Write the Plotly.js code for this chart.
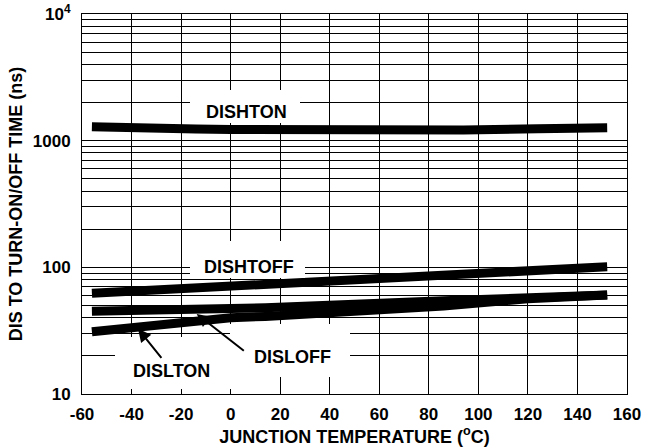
<!DOCTYPE html>
<html>
<head>
<meta charset="utf-8">
<script src="https://cdn.plot.ly/plotly-3.0.1.min.js"></script>
<style>html,body{margin:0;padding:0;background:#fff;}#chart{width:653px;height:448px;}</style>
</head>
<body>
<div id="chart"></div>
<script>
// ---- data ----
const dishtonT = [-56, -47, -30, -14, 0, 50, 94, 124, 144, 152];
const dishtonV = [1290, 1270, 1255, 1235, 1225, 1210, 1215, 1240, 1260, 1265];
const dishtoffT = [-56, 0, 14, 86, 120, 152];
const dishtoffV = [62.5, 71.5, 73.5, 87, 94.5, 101];
const disloffT = [-56, -16, 0, 14, 86, 120, 152];
const disloffV = [45, 46, 47, 48, 54.5, 58.5, 60.5];
const displtonT = [-56, -40, -20, 0, 14, 86, 120, 152];
const displtonV = [31, 33.3, 36.7, 40, 41, 49.5, 56.5, 60.5];

const xTickVals = [-60, -40, -20, 0, 20, 40, 60, 80, 100, 120, 140, 160];
const xTickText = ['-60', '-40', '-20', '0', '20', '40', '60', '80', '100', '120', '140', '160'];
const yDecades = [10, 100, 1000, 10000];
const yDecadeText = ['10', '100', '1000', '10<sup>4</sup>'];

// all log grid positions (gridlines at every 1..9 multiple)
const yTickVals = [];
const yTickText = [];
for (let d = 0; d < yDecades.length; d++) {
  const base = yDecades[d];
  yTickVals.push(base); yTickText.push(yDecadeText[d]);
  if (d < yDecades.length - 1) {
    for (let m = 2; m <= 9; m++) { yTickVals.push(base * m); yTickText.push(''); }
  }
}

const FONT = 'Liberation Sans, Arial, Helvetica, sans-serif';
const band = {color: '#000', width: 9};
function tr(x, y, name) {
  return {x: x, y: y, name: name, type: 'scatter', mode: 'lines', line: band, hoverinfo: 'skip'};
}
const data = [
  tr(dishtonT, dishtonV, 'DISHTON'),
  tr(dishtoffT, dishtoffV, 'DISHTOFF'),
  tr(disloffT, disloffV, 'DISLOFF'),
  tr(displtonT, displtonV, 'DISLTON')
];

// plot-area geometry (pixels) used only to place the white label backgrounds
const PL = 82, PR = 627, PT = 14, PB = 394;
function mask(px0, px1, py0, py1) {
  return {type: 'rect', xref: 'paper', yref: 'paper', layer: 'above',
    x0: (px0 - PL) / (PR - PL), x1: (px1 - PL) / (PR - PL),
    y0: (PB - py1) / (PB - PT), y1: (PB - py0) / (PB - PT),
    fillcolor: '#fff', line: {width: 0}};
}
const shapes = [
  mask(190, 300, 90, 123),
  mask(190, 305, 241, 278),
  mask(230, 350, 324, 377),
  mask(115, 235, 337, 389)
];

const L = Math.log10;
const labelFont = {family: FONT, size: 18, color: '#000', weight: 'bold'};
function label(x, y, t) {
  return {xref: 'x', yref: 'y', x: x, y: L(y), text: t, showarrow: false, font: labelFont};
}
// label with an arrow pointing at (x, y); text sits at pixel offset (ax, ay)
function arrowLabel(x, y, t, ax, ay, xanchor, startstandoff) {
  return {xref: 'x', yref: 'y', x: x, y: L(y), text: t, showarrow: true,
    ax: ax, ay: ay, xanchor: xanchor, yanchor: 'middle', font: labelFont,
    arrowhead: 2, arrowsize: 1.3, arrowwidth: 2, arrowcolor: '#000',
    startstandoff: startstandoff};
}

const annotations = [
  label(6.2, 1698, 'DISHTON'),
  label(7.4, 99.8, 'DISHTOFF'),
  arrowLabel(-13.7, 42.9, 'DISLOFF', 55, 43, 'left', 10),
  arrowLabel(-37.4, 32.7, 'DISLTON', 34, 42, 'center', 2)
];

const tickFont = {family: FONT, size: 17, color: '#000', weight: 'bold'};
const titleFont = {family: FONT, size: 18, color: '#000', weight: 'bold'};

const layout = {
  width: 653, height: 448,
  margin: {l: 82, r: 26, t: 14, b: 54, pad: 0},
  paper_bgcolor: '#fff', plot_bgcolor: '#fff',
  showlegend: false,
  font: {family: FONT, color: '#000'},
  xaxis: {
    range: [-60, 160], tickmode: 'array', tickvals: xTickVals, ticktext: xTickText,
    showgrid: true, gridcolor: '#000', gridwidth: 1, zeroline: false,
    showline: true, linecolor: '#000', linewidth: 1, mirror: true,
    ticks: '', tickfont: tickFont, automargin: false, ticklabelstandoff: 5,
    title: {text: 'JUNCTION TEMPERATURE (<sup>o</sup>C)', font: titleFont, standoff: 0}
  },
  yaxis: {
    type: 'log', range: [1, 4], tickmode: 'array', tickvals: yTickVals, ticktext: yTickText,
    showgrid: true, gridcolor: '#000', gridwidth: 1, zeroline: false,
    showline: true, linecolor: '#000', linewidth: 1, mirror: true,
    ticks: '', tickfont: tickFont, automargin: false, ticklabelstandoff: 7,
    title: {text: 'DIS TO TURN-ON/OFF TIME (ns)', font: titleFont, standoff: 5}
  },
  shapes: shapes,
  annotations: annotations
};

Plotly.newPlot('chart', data, layout, {displayModeBar: false, staticPlot: true});
</script>
</body>
</html>
